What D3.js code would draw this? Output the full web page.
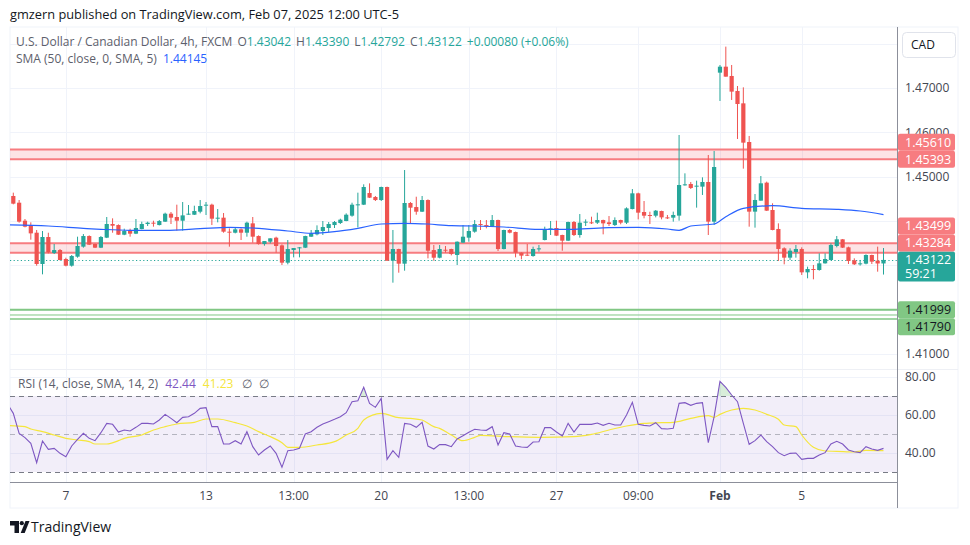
<!DOCTYPE html>
<html><head><meta charset="utf-8">
<script src="https://cdn.jsdelivr.net/npm/d3@7"></script>
<style>
body{margin:0;background:#fff;}
svg{display:block;font-family:"Open Sans","Noto Sans",sans-serif;}
</style>
</head><body>
<svg id="c" width="970" height="545"></svg>
<script>
// ---------- DATA ----------
const opens=[1.44564,1.44413,1.44007,1.43909,1.43736,1.43030,1.43639,1.43278,1.43345,1.43142,
1.42992,1.43195,1.43421,1.43661,1.43481,1.43398,1.43624,1.43932,1.43909,1.43691,
1.43789,1.43714,1.43819,1.43932,1.43962,1.43909,1.43985,1.44165,1.44090,1.44007,
1.44150,1.44142,1.44210,1.44353,1.44368,1.44052,1.44075,1.43759,1.43736,1.43812,
1.43736,1.43947,1.43661,1.43481,1.43533,1.43624,1.43451,1.43060,1.43345,1.43398,
1.43398,1.43646,1.43699,1.43774,1.43842,1.43909,1.43955,1.44000,1.44120,1.44368,
1.44368,1.44631,1.44541,1.44473,1.44767,1.43105,1.43368,1.43037,1.44406,1.44315,
1.44210,1.44473,1.43345,1.43172,1.43352,1.43368,1.43233,1.43511,1.43624,1.43759,
1.43932,1.43909,1.43872,1.44022,1.43368,1.43797,1.43752,1.43285,1.43240,1.43210,
1.43375,1.43571,1.43827,1.43842,1.43684,1.43556,1.43977,1.43684,1.43977,1.43970,
1.43962,1.44022,1.43970,1.43909,1.44022,1.43962,1.44270,1.44624,1.44203,1.44135,
1.44120,1.44225,1.44082,1.44075,1.44121,1.44820,1.44835,1.44790,1.44775,1.44880,
1.43985,1.47346,1.47481,1.47271,1.46933,1.46654,1.45782,1.44211,1.44459,1.44865,
1.44248,1.43820,1.43384,1.43173,1.43301,1.43369,1.42842,1.42917,1.42895,1.43045,
1.43121,1.43436,1.43587,1.43406,1.43113,1.43038,1.43038,1.43233,1.43105,1.43042];
const highs=[1.44639,1.44473,1.44045,1.43970,1.43797,1.43774,1.43736,1.43481,1.43368,1.43172,
1.43233,1.43646,1.43706,1.43676,1.43490,1.43661,1.44090,1.44060,1.43924,1.43827,
1.43827,1.44045,1.43985,1.43985,1.44007,1.44022,1.44188,1.44203,1.44368,1.44428,
1.44361,1.44345,1.44473,1.44428,1.44391,1.44270,1.44180,1.43834,1.43857,1.43834,
1.43985,1.44090,1.43676,1.43548,1.43609,1.43646,1.43473,1.43571,1.43390,1.43413,
1.43668,1.43797,1.43902,1.44000,1.43977,1.44000,1.44052,1.44172,1.44413,1.44639,
1.44827,1.44849,1.44564,1.44775,1.44775,1.43797,1.43375,1.45150,1.44428,1.44548,
1.44564,1.44488,1.43458,1.43458,1.43436,1.43375,1.43540,1.43909,1.43909,1.44022,
1.44022,1.44022,1.44135,1.44030,1.43804,1.43819,1.43760,1.43293,1.43481,1.43421,
1.43458,1.43872,1.44000,1.44007,1.43691,1.43985,1.44000,1.44157,1.44037,1.44097,
1.44188,1.44030,1.44112,1.44082,1.44030,1.44308,1.44721,1.44639,1.44451,1.44210,
1.44248,1.44233,1.44136,1.44211,1.45940,1.45075,1.44880,1.44910,1.44985,1.45489,
1.45579,1.47519,1.47933,1.47519,1.47045,1.47015,1.45918,1.44609,1.45015,1.44888,
1.44399,1.43947,1.43406,1.43384,1.43459,1.43406,1.42970,1.43008,1.43271,1.43271,
1.43497,1.43662,1.43594,1.43421,1.43158,1.43121,1.43248,1.43241,1.43421,1.43390];
const lows=[1.44376,1.43962,1.43857,1.43579,1.42992,1.42797,1.43270,1.43255,1.43115,1.42977,
1.42970,1.43172,1.43398,1.43458,1.43390,1.43390,1.43615,1.43736,1.43686,1.43680,
1.43646,1.43705,1.43812,1.43887,1.43872,1.43900,1.43978,1.43932,1.43782,1.43782,
1.44142,1.44135,1.44173,1.44135,1.43909,1.43970,1.43736,1.43421,1.43721,1.43571,
1.43646,1.43511,1.43466,1.43443,1.43496,1.43285,1.43007,1.43022,1.43180,1.43180,
1.43390,1.43640,1.43676,1.43684,1.43752,1.43842,1.43932,1.43995,1.44097,1.43857,
1.44360,1.44518,1.44451,1.44451,1.43098,1.42609,1.42834,1.42879,1.43932,1.44142,
1.44203,1.43157,1.43105,1.43157,1.43285,1.43225,1.43007,1.43503,1.43533,1.43736,
1.43797,1.43834,1.43864,1.43323,1.43360,1.43721,1.43180,1.43135,1.43210,1.43195,
1.43308,1.43563,1.43684,1.43661,1.43330,1.43548,1.43661,1.43624,1.43887,1.43932,
1.43932,1.43699,1.43887,1.43887,1.43925,1.43932,1.44262,1.44037,1.44060,1.43932,
1.44082,1.44037,1.44045,1.43985,1.44008,1.44797,1.44722,1.44301,1.44587,1.43684,
1.43910,1.46707,1.47256,1.46730,1.45850,1.45181,1.43872,1.43850,1.44459,1.44226,
1.43790,1.43098,1.43023,1.43121,1.43173,1.42782,1.42707,1.42684,1.42880,1.43038,
1.43113,1.43406,1.43391,1.43030,1.43008,1.42993,1.43023,1.43030,1.42857,1.42792];
const closes=[1.44391,1.43985,1.43872,1.43721,1.43030,1.43639,1.43293,1.43345,1.43120,1.42992,
1.43210,1.43436,1.43661,1.43466,1.43398,1.43639,1.43932,1.43894,1.43691,1.43774,
1.43714,1.43842,1.43932,1.43962,1.43955,1.43999,1.44165,1.44075,1.44007,1.44127,
1.44165,1.44225,1.44338,1.44368,1.44052,1.44075,1.43759,1.43750,1.43812,1.43736,
1.43962,1.43646,1.43481,1.43548,1.43609,1.43436,1.43060,1.43368,1.43390,1.43406,
1.43661,1.43721,1.43797,1.43864,1.43932,1.43977,1.44030,1.44142,1.44368,1.44376,
1.44767,1.44526,1.44473,1.44767,1.43105,1.43368,1.43037,1.44406,1.44300,1.44210,
1.44473,1.43330,1.43172,1.43368,1.43345,1.43255,1.43533,1.43646,1.43774,1.43932,
1.43924,1.43872,1.44022,1.43368,1.43797,1.43736,1.43285,1.43218,1.43233,1.43368,
1.43383,1.43819,1.43834,1.43669,1.43556,1.43977,1.43684,1.43962,1.43985,1.43962,
1.44022,1.43947,1.43932,1.44022,1.43962,1.44285,1.44624,1.44188,1.44120,1.44127,
1.44233,1.44082,1.44075,1.44136,1.44812,1.44827,1.44745,1.44797,1.44880,1.43985,
1.45218,1.47481,1.47256,1.46918,1.46639,1.45767,1.44211,1.44474,1.44850,1.44233,
1.43797,1.43369,1.43173,1.43331,1.43369,1.42842,1.42917,1.42910,1.43045,1.43143,
1.43459,1.43587,1.43399,1.43098,1.43023,1.43045,1.43233,1.43083,1.43042,1.43122];

// SMA(50) read at bar indices
const smaIdx=[-1,6,12,15,20,26,32,37,41,47,51,55,59,63,67,71,75,79,84,90,96,102,107,112,114,116,120,122,125,130,135,141,145,149];
const smaVal=[1.43912,1.43887,1.43835,1.43813,1.43790,1.43790,1.43826,1.43858,1.43842,1.43774,1.43722,1.43759,1.43835,1.43932,1.43948,1.43932,1.43894,1.43887,1.43865,1.43813,1.43813,1.43849,1.43858,1.43820,1.43790,1.43887,1.43932,1.44097,1.44286,1.44345,1.44286,1.44264,1.44226,1.44145];

// RSI(14): value of the bar just left of the view, then one per visible bar
const rsiBefore=65.8;
const rsi=[60.87,50.35,48.07,45.09,34.91,46.31,41.93,42.45,39.82,38.07,
43.68,47.19,50.35,47.72,46.49,50.70,55.61,55.09,51.05,52.10,
51.58,53.51,55.61,55.61,55.26,57.37,60.35,58.24,55.96,58.77,
59.12,60.87,63.51,63.86,53.86,53.86,44.74,44.74,46.49,44.74,
51.23,43.33,38.95,41.58,43.68,39.82,32.46,41.23,41.58,42.46,
50.00,51.23,53.51,55.26,56.49,57.72,59.12,61.23,67.02,67.54,
74.56,66.14,64.03,68.77,36.67,41.23,37.72,55.61,55.09,53.51,
56.14,43.68,42.11,44.39,44.39,43.33,47.37,49.12,50.88,52.46,
52.10,51.93,53.86,44.21,50.70,50.00,43.68,43.16,42.98,45.79,
45.96,53.33,53.33,51.05,48.95,55.61,51.05,55.09,55.09,55.09,
55.79,54.56,55.61,54.74,54.74,60.00,66.67,55.09,54.56,54.21,
55.96,52.81,52.63,52.98,66.14,66.49,65.09,66.14,66.49,45.44,
59.12,77.72,74.56,70.53,67.02,55.61,44.56,46.49,49.47,45.96,
43.33,40.18,38.60,39.82,40.00,36.67,37.19,37.19,38.95,40.18,
44.74,46.14,44.74,41.58,40.70,40.18,43.33,42.11,41.40,42.44];
// RSI-based MA read at bar indices
const rsiMaIdx=[-1,2,3,5,7,9,11,13,14,16,18,19,22,24,26,28,31,33,35,38,40,42,44,46,47,49,52,55,57,59,60,63,66,68,70,72,73,75,77,79,80,85,90,96,99,102,105,108,111,113,116,119,120,121,123,125,127,129,131,132,134,135,137,139,141,144,146,149];
const rsiMaVal=[54.5,53.86,52.63,51.23,49.47,47.72,46.84,45.96,44.74,44.74,46.49,47.72,49.47,52.10,53.86,55.26,56.14,57.89,57.89,55.96,54.21,51.23,48.60,45.44,42.98,42.98,44.21,45.96,49.47,52.98,57.37,60.87,58.60,58.24,57.37,53.86,52.98,49.5,46.49,48.25,49.30,48.60,48.25,48.60,49.82,52.10,54.21,55.61,55.96,56.14,58.24,59.65,58.77,60.35,62.63,63.51,62.63,60.35,57.72,54.74,53.86,49.47,42.98,41.05,40.88,40.53,41.40,41.23];

// horizontal zones / levels
const resistTop=[1.45610,1.43499];
const resistBot=[1.45393,1.43284];
const supportLevels=[1.41999,1.41790];
const supportMid=[1.41880];
const lastPrice=1.43122;
const changeText="+0.00080 (+0.06%)";
const countdown="59:21";

// axes
const priceTicks=[1.48,1.47,1.46,1.45,1.44,1.43,1.42,1.41];
const rsiTicks=[80,60,40];
const rsiBands=[70,50,30];
const timeTickIdx=[9,33,48,63,78,93,107,121,135];
const timeTickText=["7","13","13:00","20","13:00","27","09:00","Feb","5"];

// ---------- LAYOUT ----------
const L=10, R=897, mainTop=27, mainBot=369, rsiTop=370, rsiBot=482, axisBot=508, outerR=958;
const up="#26a69a", down="#ef5350";
const svg=d3.select("#c");
const x=d3.scaleLinear().domain([0,149]).range([13.3,883.5]);
const y=d3.scaleLinear().domain([1.41,1.47]).range([354,88]);
const yr=d3.scaleLinear().domain([40,80]).range([453,377]);
const step=x(1)-x(0), bw=Math.max(1,step*0.72);

const defs=svg.append("defs");
defs.append("clipPath").attr("id","cm").append("rect").attr("x",L).attr("y",mainTop).attr("width",R-L).attr("height",mainBot-mainTop);
defs.append("clipPath").attr("id","cr").append("rect").attr("x",L).attr("y",rsiTop).attr("width",R-L).attr("height",rsiBot-rsiTop);
defs.append("clipPath").attr("id","cob").append("rect").attr("x",L).attr("y",rsiTop).attr("width",R-L).attr("height",yr(70)-rsiTop);

// header
svg.append("text").attr("x",10).attr("y",19).attr("font-size",12.8).attr("fill","#131722")
  .text("gmzern published on TradingView.com, Feb 07, 2025 12:00 UTC-5");

// frame
svg.append("rect").attr("x",L).attr("y",mainTop).attr("width",outerR-L).attr("height",axisBot-mainTop)
  .attr("fill","#fff").attr("stroke","#f0f3fa").attr("stroke-width",1);

// grid
const gm=svg.append("g");
gm.selectAll("line.h").data(priceTicks).join("line").attr("x1",L).attr("x2",R)
  .attr("y1",d=>Math.round(y(d))+0.5).attr("y2",d=>Math.round(y(d))+0.5).attr("stroke","#f0f3fa");
gm.selectAll("line.hr").data(rsiTicks).join("line").attr("x1",L).attr("x2",R)
  .attr("y1",d=>Math.round(yr(d))+0.5).attr("y2",d=>Math.round(yr(d))+0.5).attr("stroke","#f0f3fa");
gm.selectAll("line.v").data(timeTickIdx).join("line").attr("y1",mainTop).attr("y2",rsiBot)
  .attr("x1",d=>Math.round(x(d))+0.5).attr("x2",d=>Math.round(x(d))+0.5).attr("stroke","#f0f3fa");
// pane separator
svg.append("line").attr("x1",L).attr("x2",outerR).attr("y1",mainBot+0.5).attr("y2",mainBot+0.5).attr("stroke","#eef0f5");

// main pane
const m=svg.append("g").attr("clip-path","url(#cm)");
resistTop.forEach((t,i)=>{
  const b=resistBot[i];
  m.append("rect").attr("x",L).attr("width",R-L).attr("y",y(t)).attr("height",y(b)-y(t)).attr("fill","rgba(242,54,69,0.14)");
  [t,b].forEach(v=>m.append("line").attr("x1",L).attr("x2",R).attr("y1",y(v)).attr("y2",y(v)).attr("stroke","#f77c80").attr("stroke-width",2));
});
supportLevels.forEach((v,i)=>m.append("line").attr("x1",L).attr("x2",R).attr("y1",y(v)).attr("y2",y(v))
  .attr("stroke","#81c784").attr("stroke-width",i===0?2:1.4));
supportMid.forEach(v=>m.append("line").attr("x1",L).attr("x2",R).attr("y1",y(v)).attr("y2",y(v)).attr("stroke","#81c784").attr("stroke-width",1));

// last price dotted
m.append("line").attr("x1",L).attr("x2",R).attr("y1",Math.round(y(lastPrice))+0.5).attr("y2",Math.round(y(lastPrice))+0.5)
  .attr("stroke",up).attr("stroke-width",1.2).attr("stroke-dasharray","1.2,2.4");

// candles
const idx=d3.range(opens.length);
const cg=m.append("g");
cg.selectAll("line.w").data(idx).join("line")
  .attr("x1",i=>x(i)).attr("x2",i=>x(i)).attr("y1",i=>y(highs[i])).attr("y2",i=>y(lows[i]))
  .attr("stroke",i=>closes[i]>=opens[i]?up:down).attr("stroke-width",1);
cg.selectAll("rect.b").data(idx).join("rect")
  .attr("x",i=>x(i)-bw/2).attr("width",bw)
  .attr("y",i=>y(Math.max(opens[i],closes[i])))
  .attr("height",i=>Math.max(1,Math.abs(y(opens[i])-y(closes[i]))))
  .attr("fill",i=>closes[i]>=opens[i]?up:down);

// SMA line
m.append("path").datum(smaIdx.map((d,i)=>[d,smaVal[i]]))
  .attr("d",d3.line().x(d=>x(d[0])).y(d=>y(d[1])).curve(d3.curveMonotoneX))
  .attr("fill","none").attr("stroke","#2962ff").attr("stroke-width",1.2);

// RSI pane
const rsiPts=[[-1,rsiBefore]].concat(idx.map(i=>[i,rsi[i]]));
const r=svg.append("g").attr("clip-path","url(#cr)");
r.append("rect").attr("x",L).attr("width",R-L).attr("y",yr(70)).attr("height",yr(30)-yr(70)).attr("fill","rgba(126,87,194,0.1)");
rsiBands.forEach(v=>r.append("line").attr("x1",L).attr("x2",R).attr("y1",Math.round(yr(v))+0.5).attr("y2",Math.round(yr(v))+0.5)
  .attr("stroke","#787b86").attr("stroke-dasharray","5,4").attr("stroke-width",1).attr("opacity",v===50?0.5:1));
r.append("path").datum(rsiPts).attr("clip-path","url(#cob)")
  .attr("d",d3.area().x(d=>x(d[0])).y0(yr(70)).y1(d=>yr(d[1])))
  .attr("fill","rgba(76,175,80,0.22)");
r.append("path").datum(rsiMaIdx.map((d,i)=>[d,rsiMaVal[i]]))
  .attr("d",d3.line().x(d=>x(d[0])).y(d=>yr(d[1])).curve(d3.curveMonotoneX))
  .attr("fill","none").attr("stroke","#f5e63c").attr("stroke-width",1.2);
r.append("path").datum(rsiPts)
  .attr("d",d3.line().x(d=>x(d[0])).y(d=>yr(d[1])))
  .attr("fill","none").attr("stroke","#7e57c2").attr("stroke-width",1.1);

// axes lines
svg.append("line").attr("x1",R+0.5).attr("x2",R+0.5).attr("y1",mainTop).attr("y2",axisBot).attr("stroke","#8c8f9a");
svg.append("line").attr("x1",L).attr("x2",R).attr("y1",rsiBot+0.5).attr("y2",rsiBot+0.5).attr("stroke","#8c8f9a");

// price labels with collision avoidance (computed first so hidden ticks can be skipped)
const lab=[
 {v:lastPrice,h:30,off:8.5,fill:up,tc:"#fff",two:countdown},
 {v:resistBot[0],fill:"#f77c80",tc:"#fff"},
 {v:resistTop[0],fill:"#f77c80",tc:"#fff"},
 {v:resistBot[1],fill:"#f77c80",tc:"#fff"},
 {v:resistTop[1],fill:"#f77c80",tc:"#fff"},
 {v:supportLevels[0],fill:"#81c784",tc:"#131722"},
 {v:supportLevels[1],fill:"#81c784",tc:"#131722"}
];
const placed=[];
lab.forEach(l=>{
  const h=l.h||17, off=l.off||8.5;
  let top=y(l.v)-off, moved=true;
  while(moved){
    moved=false;
    for(const p of placed){
      if(top<p.top+p.h && top+h>p.top){
        top = l.v>p.v ? p.top-h : p.top+p.h; moved=true;
      }
    }
  }
  l.top=top; l.hh=h; l.off=off; placed.push({top,h,v:l.v});
});
const covers=[{top:32,h:26}].concat(placed);
const visibleTick=v=>!covers.some(p=>y(v)-3>p.top && y(v)+3<p.top+p.h);

// tick labels
const ax=svg.append("g").attr("font-size",12).attr("fill","#434651");
ax.selectAll("text.p").data(priceTicks.filter(visibleTick)).join("text").attr("x",905).attr("y",d=>y(d)).attr("dy","0.35em")
  .text(d=>d.toFixed(5));
ax.selectAll("text.r").data(rsiTicks).join("text").attr("x",905).attr("y",d=>yr(d)).attr("dy","0.35em")
  .text(d=>d.toFixed(2));
ax.selectAll("text.t").data(timeTickIdx).join("text").attr("x",d=>x(d)).attr("y",496).attr("dy","0.35em")
  .attr("text-anchor","middle").attr("font-weight",(d,i)=>timeTickText[i]==="Feb"?700:400)
  .text((d,i)=>timeTickText[i]);

// CAD box
svg.append("rect").attr("x",902.5).attr("y",32.5).attr("width",53).attr("height",25).attr("rx",4)
  .attr("fill","#fff").attr("stroke","#e0e3eb");
svg.append("text").attr("x",911).attr("y",45).attr("dy","0.35em").attr("font-size",12).attr("fill","#131722").text("CAD");

const lg=svg.append("g").attr("font-size",12.5);
lab.forEach(l=>{
  lg.append("rect").attr("x",898).attr("y",l.top).attr("width",57).attr("height",l.hh).attr("rx",2).attr("fill",l.fill);
  lg.append("text").attr("x",905).attr("y",l.top+l.off).attr("dy","0.36em").attr("fill",l.tc).text(l.v.toFixed(5));
  if(l.two) lg.append("text").attr("x",905).attr("y",l.top+l.off+14).attr("dy","0.36em").attr("fill",l.tc).text(l.two);
});

// legends
const lt=svg.append("text").attr("x",16).attr("y",42).attr("dy","0.35em").attr("font-size",12).attr("fill","#5d606b");
lt.append("tspan").text("U.S. Dollar / Canadian Dollar, 4h, FXCM");
const ohlc=[["O",opens[149]],["H",highs[149]],["L",lows[149]],["C",closes[149]]];
ohlc.forEach(d=>{lt.append("tspan").attr("dx",5).text(d[0]);lt.append("tspan").attr("fill",up).text(d[1].toFixed(5));});
lt.append("tspan").attr("dx",5).attr("fill",up).text(changeText);
const l2=svg.append("text").attr("x",16).attr("y",59).attr("dy","0.35em").attr("font-size",12).attr("fill","#5d606b");
l2.append("tspan").text("SMA (50, close, 0, SMA, 5)");
l2.append("tspan").attr("dx",6).attr("fill","#2962ff").text(smaVal[smaVal.length-1].toFixed(5));
const l3=svg.append("text").attr("x",18).attr("y",384).attr("dy","0.35em").attr("font-size",12).attr("fill","#5d606b");
l3.append("tspan").text("RSI (14, close, SMA, 14, 2)");
l3.append("tspan").attr("dx",7).attr("fill","#7e57c2").text(rsi[rsi.length-1].toFixed(2));
l3.append("tspan").attr("dx",7).attr("fill","#f5e63c").text(rsiMaVal[rsiMaVal.length-1].toFixed(2));
l3.append("tspan").attr("dx",9).text("\u2205");
l3.append("tspan").attr("dx",7).text("\u2205");

// TradingView logo
const tv=svg.append("g").attr("fill","#131722");
tv.append("path").attr("d","M10,521 h9 v12 h-4.5 v-7.5 h-4.5 z");
tv.append("circle").attr("cx",21.8).attr("cy",523.2).attr("r",2.1);
tv.append("path").attr("d","M25.5,521 h4 l-4.8,12 h-4 z");
svg.append("text").attr("x",31).attr("y",527).attr("dy","0.35em").attr("font-size",14).attr("fill","#131722").text("TradingView");
</script>
</body></html>
